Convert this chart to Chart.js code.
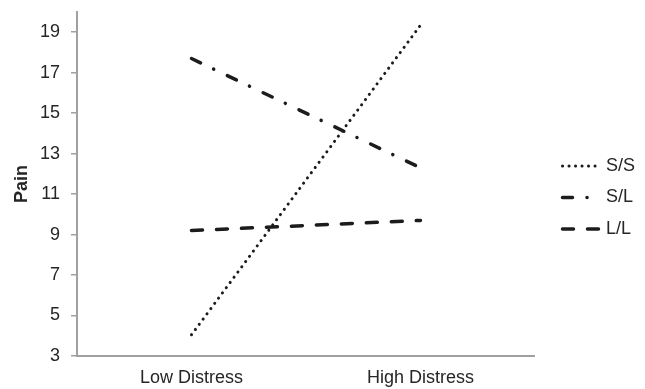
<!DOCTYPE html>
<html>
<head>
<meta charset="utf-8">
<script src="https://cdn.jsdelivr.net/npm/chart.js@4"></script>
<style>
  html, body { margin: 0; padding: 0; background: #ffffff; }
  #c { display: block; }
</style>
</head>
<body>
<canvas id="c" width="645" height="389"></canvas>
<script>
// Pain by distress level for each genotype group
const categories = ['Low Distress', 'High Distress'];
const seriesNames = ['S/S', 'S/L', 'L/L'];
const ssValues = [4.05, 19.35];
const slValues = [17.7, 12.3];
const llValues = [9.2, 9.7];
const yTicks = [3, 5, 7, 9, 11, 13, 15, 17, 19];

const lineColor = '#1c1c1c';
const axisColor = '#a0a0a0';
const textColor = '#262626';
const fontFamily = 'Liberation Sans, Arial, sans-serif';
const sampleWidth = 38;

function series(label, data, dash, width) {
  return {
    label: label,
    data: data,
    borderColor: lineColor,
    backgroundColor: lineColor,
    borderWidth: width,
    borderDash: dash,
    borderCapStyle: 'round',
    pointRadius: 0,
    fill: false,
    tension: 0
  };
}

// Legend text comes from Chart.js; the line samples are stroked here
// with each dataset's own dash pattern.
const legendSamples = {
  id: 'legendSamples',
  afterDraw(chart) {
    const legend = chart.legend;
    if (!legend || !legend.legendHitBoxes) return;
    const ctx = chart.ctx;
    legend.legendHitBoxes.forEach((hb, i) => {
      const ds = chart.data.datasets[i];
      const y = hb.top + hb.height / 2;
      ctx.save();
      ctx.strokeStyle = ds.borderColor;
      ctx.lineWidth = ds.borderWidth;
      ctx.lineCap = ds.borderCapStyle;
      ctx.setLineDash(ds.borderDash);
      ctx.beginPath();
      ctx.moveTo(hb.left + 1.5, y);
      ctx.lineTo(hb.left + sampleWidth, y);
      ctx.stroke();
      ctx.restore();
    });
  }
};

new Chart(document.getElementById('c'), {
  type: 'line',
  data: {
    labels: categories,
    datasets: [
      series(seriesNames[0], ssValues, [0.1, 6.4], 3),
      series(seriesNames[1], slValues, [10, 14.5, 0.1, 15.1], 3.5),
      series(seriesNames[2], llValues, [11, 14], 3.5)
    ]
  },
  plugins: [legendSamples],
  options: {
    responsive: false,
    devicePixelRatio: 1,
    animation: false,
    layout: { padding: { top: 6, right: 0, left: 11, bottom: 0 } },
    plugins: {
      tooltip: { enabled: false },
      legend: {
        position: 'right',
        align: 'center',
        labels: {
          boxWidth: 36,
          boxHeight: 19.5,
          color: textColor,
          padding: 12,
          font: { family: fontFamily, size: 18 },
          generateLabels(chart) {
            return chart.data.datasets.map((ds, i) => ({
              text: ds.label,
              fillStyle: 'rgba(0,0,0,0)',
              strokeStyle: 'rgba(0,0,0,0)',
              lineWidth: 0,
              fontColor: textColor,
              hidden: false,
              datasetIndex: i
            }));
          }
        }
      }
    },
    scales: {
      x: {
        offset: true,
        grid: { display: false, drawTicks: false },
        border: { display: true, color: axisColor, width: 2 },
        ticks: {
          color: textColor,
          padding: 11,
          font: { family: fontFamily, size: 18 }
        },
        afterFit: (scale) => { scale.height = 33; }
      },
      y: {
        min: 3,
        max: 20,
        afterBuildTicks: (axis) => { axis.ticks = yTicks.map(v => ({ value: v })); },
        afterFit: (scale) => {
          scale.width = 66;
          scale.paddingTop = 12;
          scale.paddingBottom = 0;
        },
        grid: { drawOnChartArea: false, drawTicks: true, tickLength: 6, color: axisColor, lineWidth: 1.5 },
        border: { display: true, color: axisColor, width: 2 },
        ticks: {
          color: textColor,
          padding: 11,
          font: { family: fontFamily, size: 18 }
        },
        title: {
          display: true,
          text: 'Pain',
          color: textColor,
          padding: { top: 0, bottom: 7 },
          font: { family: fontFamily, size: 18, weight: 'bold' }
        }
      },
      // empty right-hand axis that keeps a gap between the plot and the legend
      gap: {
        type: 'linear',
        position: 'right',
        display: true,
        grid: { display: false, drawTicks: false },
        border: { display: false },
        ticks: { display: false },
        afterFit: (scale) => {
          scale.width = 14;
          scale.paddingTop = 0;
          scale.paddingBottom = 0;
        }
      }
    }
  }
});
</script>
</body>
</html>
